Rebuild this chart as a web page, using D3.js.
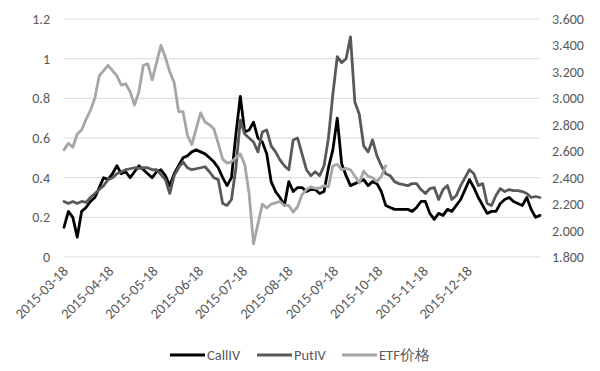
<!DOCTYPE html>
<html>
<head>
<meta charset="utf-8">
<script src="https://cdnjs.cloudflare.com/ajax/libs/d3/7.8.5/d3.min.js"></script>
<style>
    body { margin: 0; background: #fff; }
    svg text { font-family: Carlito, Calibri, "Liberation Sans", sans-serif; fill: #595959; }
    .grid line { stroke: #d9d9d9; stroke-width: 1px; }
    .series { fill: none; stroke-width: 2.8px; stroke-linejoin: round; stroke-linecap: round; }
</style>
</head>
<body>
<div id="chart"></div>
<script>
    // observations every 3 calendar days from the start date
    var startDate = "2015-03-18";
    var stepDays = 3;

    var callIV = [0.15, 0.23, 0.20, 0.10, 0.23, 0.25, 0.28, 0.30, 0.35, 0.40,
        0.39, 0.42, 0.46, 0.42, 0.43, 0.40, 0.43, 0.46, 0.44, 0.42,
        0.40, 0.43, 0.44, 0.41, 0.36, 0.42, 0.46, 0.50, 0.51, 0.53,
        0.54, 0.53, 0.52, 0.50, 0.48, 0.45, 0.40, 0.36, 0.40, 0.62,
        0.81, 0.63, 0.64, 0.68, 0.60, 0.58, 0.52, 0.38, 0.33, 0.30,
        0.26, 0.38, 0.33, 0.35, 0.35, 0.33, 0.34, 0.34, 0.32, 0.33,
        0.45, 0.54, 0.70, 0.47, 0.41, 0.36, 0.37, 0.38, 0.39, 0.36,
        0.38, 0.37, 0.33, 0.26, 0.25, 0.24, 0.24, 0.24, 0.24, 0.23,
        0.25, 0.28, 0.28, 0.22, 0.19, 0.22, 0.21, 0.24, 0.23, 0.26,
        0.29, 0.34, 0.39, 0.35, 0.30, 0.26, 0.22, 0.23, 0.23, 0.27,
        0.29, 0.30, 0.28, 0.27, 0.26, 0.30, 0.24, 0.20, 0.21];

    var putIV = [0.28, 0.27, 0.28, 0.27, 0.28, 0.275, 0.30, 0.32, 0.34, 0.36,
        0.39, 0.40, 0.42, 0.43, 0.44, 0.445, 0.45, 0.447, 0.45, 0.45,
        0.44, 0.44, 0.415, 0.39, 0.32, 0.41, 0.45, 0.48, 0.45, 0.44,
        0.445, 0.45, 0.455, 0.43, 0.40, 0.39, 0.27, 0.26, 0.29, 0.45,
        0.69, 0.62, 0.60, 0.58, 0.53, 0.63, 0.64, 0.56, 0.53, 0.49,
        0.46, 0.44, 0.59, 0.60, 0.52, 0.44, 0.41, 0.43, 0.41, 0.46,
        0.60, 0.82, 1.01, 0.98, 1.00, 1.11, 0.78, 0.72, 0.56, 0.53,
        0.59, 0.51, 0.46, 0.42, 0.41, 0.38, 0.37, 0.365, 0.36, 0.37,
        0.37, 0.34, 0.32, 0.345, 0.35, 0.29, 0.34, 0.36, 0.29, 0.31,
        0.36, 0.40, 0.44, 0.42, 0.36, 0.37, 0.27, 0.26, 0.31, 0.345,
        0.33, 0.34, 0.335, 0.335, 0.33, 0.32, 0.30, 0.305, 0.30];

    var etfPrice = [2.61, 2.66, 2.63, 2.73, 2.76, 2.84, 2.91, 3.00, 3.17, 3.21,
        3.25, 3.21, 3.17, 3.10, 3.11, 3.05, 2.95, 3.05, 3.25, 3.26,
        3.14, 3.27, 3.40, 3.31, 3.20, 3.12, 2.90, 2.90, 2.72, 2.65,
        2.77, 2.89, 2.82, 2.80, 2.77, 2.66, 2.54, 2.51, 2.52, 2.55,
        2.58, 2.50, 2.28, 1.90, 2.05, 2.20, 2.17, 2.20, 2.21, 2.22,
        2.19, 2.19, 2.14, 2.18, 2.27, 2.31, 2.33, 2.32, 2.32, 2.34,
        2.33, 2.49, 2.50, 2.46, 2.47, 2.46, 2.41, 2.36, 2.45, 2.41,
        2.40, 2.37, 2.41, 2.49];

    var tickLabels = ["2015-03-18", "2015-04-18", "2015-05-18", "2015-06-18", "2015-07-18",
        "2015-08-18", "2015-09-18", "2015-10-18", "2015-11-18", "2015-12-18"];
    var leftTicks = [0, 0.2, 0.4, 0.6, 0.8, 1, 1.2];
    var rightTicks = [1.8, 2.0, 2.2, 2.4, 2.6, 2.8, 3.0, 3.2, 3.4, 3.6];

    var seriesNames = ["CallIV", "PutIV", "ETF价格"];
    var seriesColors = ["#000000", "#595959", "#a6a6a6"];

    var width = 600, height = 371;
    var margin = { top: 19, right: 60, bottom: 114, left: 64 };

    var parse = d3.utcParse("%Y-%m-%d");
    var t0 = parse(startDate);
    var dates = callIV.map(function (d, i) { return d3.utcDay.offset(t0, i * stepDays); });

    var svg = d3.select("#chart").append("svg")
        .attr("width", width)
        .attr("height", height);

    var x = d3.scaleUtc()
        .domain([dates[0], dates[dates.length - 1]])
        .range([margin.left, width - margin.right]);
    var yL = d3.scaleLinear().domain([0, 1.2]).range([height - margin.bottom, margin.top]);
    var yR = d3.scaleLinear().domain([1.8, 3.6]).range([height - margin.bottom, margin.top]);

    // gridlines from the left axis
    svg.append("g").attr("class", "grid")
        .selectAll("line").data(leftTicks).enter().append("line")
        .attr("x1", margin.left).attr("x2", width - margin.right)
        .attr("y1", function (d) { return yL(d); })
        .attr("y2", function (d) { return yL(d); });

    // left axis
    var axL = svg.append("g")
        .attr("transform", "translate(" + (margin.left - 14) + ",0)")
        .call(d3.axisLeft(yL).tickValues(leftTicks).tickSize(0).tickPadding(0)
            .tickFormat(function (d) { return String(d); }));
    axL.select(".domain").remove();
    axL.selectAll("text").style("font-size", "14px");

    // right axis
    var axR = svg.append("g")
        .attr("transform", "translate(" + (width - margin.right + 12) + ",0)")
        .call(d3.axisRight(yR).tickValues(rightTicks).tickSize(0).tickPadding(0)
            .tickFormat(d3.format(".3f")));
    axR.select(".domain").remove();
    axR.selectAll("text").style("font-size", "14px");

    // bottom labels, rotated
    svg.append("g").selectAll("text").data(tickLabels).enter().append("text")
        .attr("transform", function (d) {
            return "translate(" + (x(parse(d)) + 5) + "," + (height - margin.bottom + 15) + ") rotate(-45)";
        })
        .attr("text-anchor", "end")
        .style("font-size", "14.5px")
        .text(function (d) { return d; });

    // lines
    var lineL = d3.line()
        .x(function (d, i) { return x(dates[i]); })
        .y(function (d) { return yL(d); });
    var lineR = d3.line()
        .x(function (d, i) { return x(dates[i]); })
        .y(function (d) { return yR(d); });

    svg.append("path").attr("class", "series").datum(callIV)
        .attr("stroke", seriesColors[0]).attr("d", lineL);
    svg.append("path").attr("class", "series").datum(putIV)
        .attr("stroke", seriesColors[1]).attr("d", lineL);
    svg.append("path").attr("class", "series").datum(etfPrice)
        .attr("stroke", seriesColors[2]).attr("d", lineR);

    // legend
    var legendX = [170, 257, 342];
    var legend = svg.append("g").selectAll("g").data(seriesNames).enter().append("g")
        .attr("transform", function (d, i) { return "translate(" + legendX[i] + ",355)"; });
    legend.append("line")
        .attr("x1", 0).attr("x2", 35).attr("y1", 0).attr("y2", 0)
        .attr("stroke", function (d, i) { return seriesColors[i]; })
        .attr("stroke-width", 3);
    legend.append("text")
        .attr("x", 37).attr("y", 5)
        .style("font-size", "14.5px")
        .text(function (d) { return d; });
</script>
</body>
</html>
